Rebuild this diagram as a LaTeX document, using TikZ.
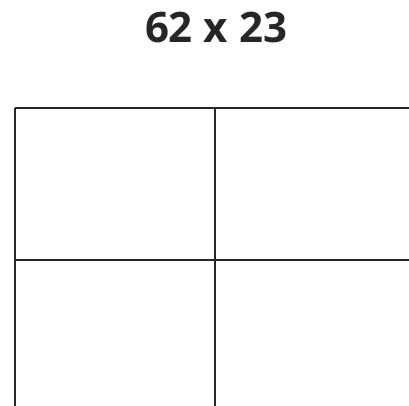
\documentclass[tikz,border=0pt]{standalone}
\usepackage{fontspec}
\setmainfont{Open Sans}
\usetikzlibrary{positioning}

\begin{document}
\begin{tikzpicture}[x=1pt, y=-1pt, grid/.style={line width=2.6pt, draw=black!85}]
  \useasboundingbox (0,0) rectangle (409,406);
  \node (title) [anchor=base, font=\bfseries\fontsize{42}{42}\selectfont, text=black!85, inner sep=0pt] at (216,43) {62 x 23};
  \coordinate (TL) at (15,108);
  \coordinate (TR) at (412,108);
  \coordinate (ML) at (15,260);
  \coordinate (MR) at (412,260);
  \coordinate (BL) at (15,410);
  \coordinate (TM) at (215,108);
  \coordinate (BM) at (215,410);
  \draw[grid] (TL) -- (TR);
  \draw[grid] (ML) -- (MR);
  \draw[grid] (TL) -- (BL);
  \draw[grid] (TM) -- (BM);
\end{tikzpicture}
\end{document}
